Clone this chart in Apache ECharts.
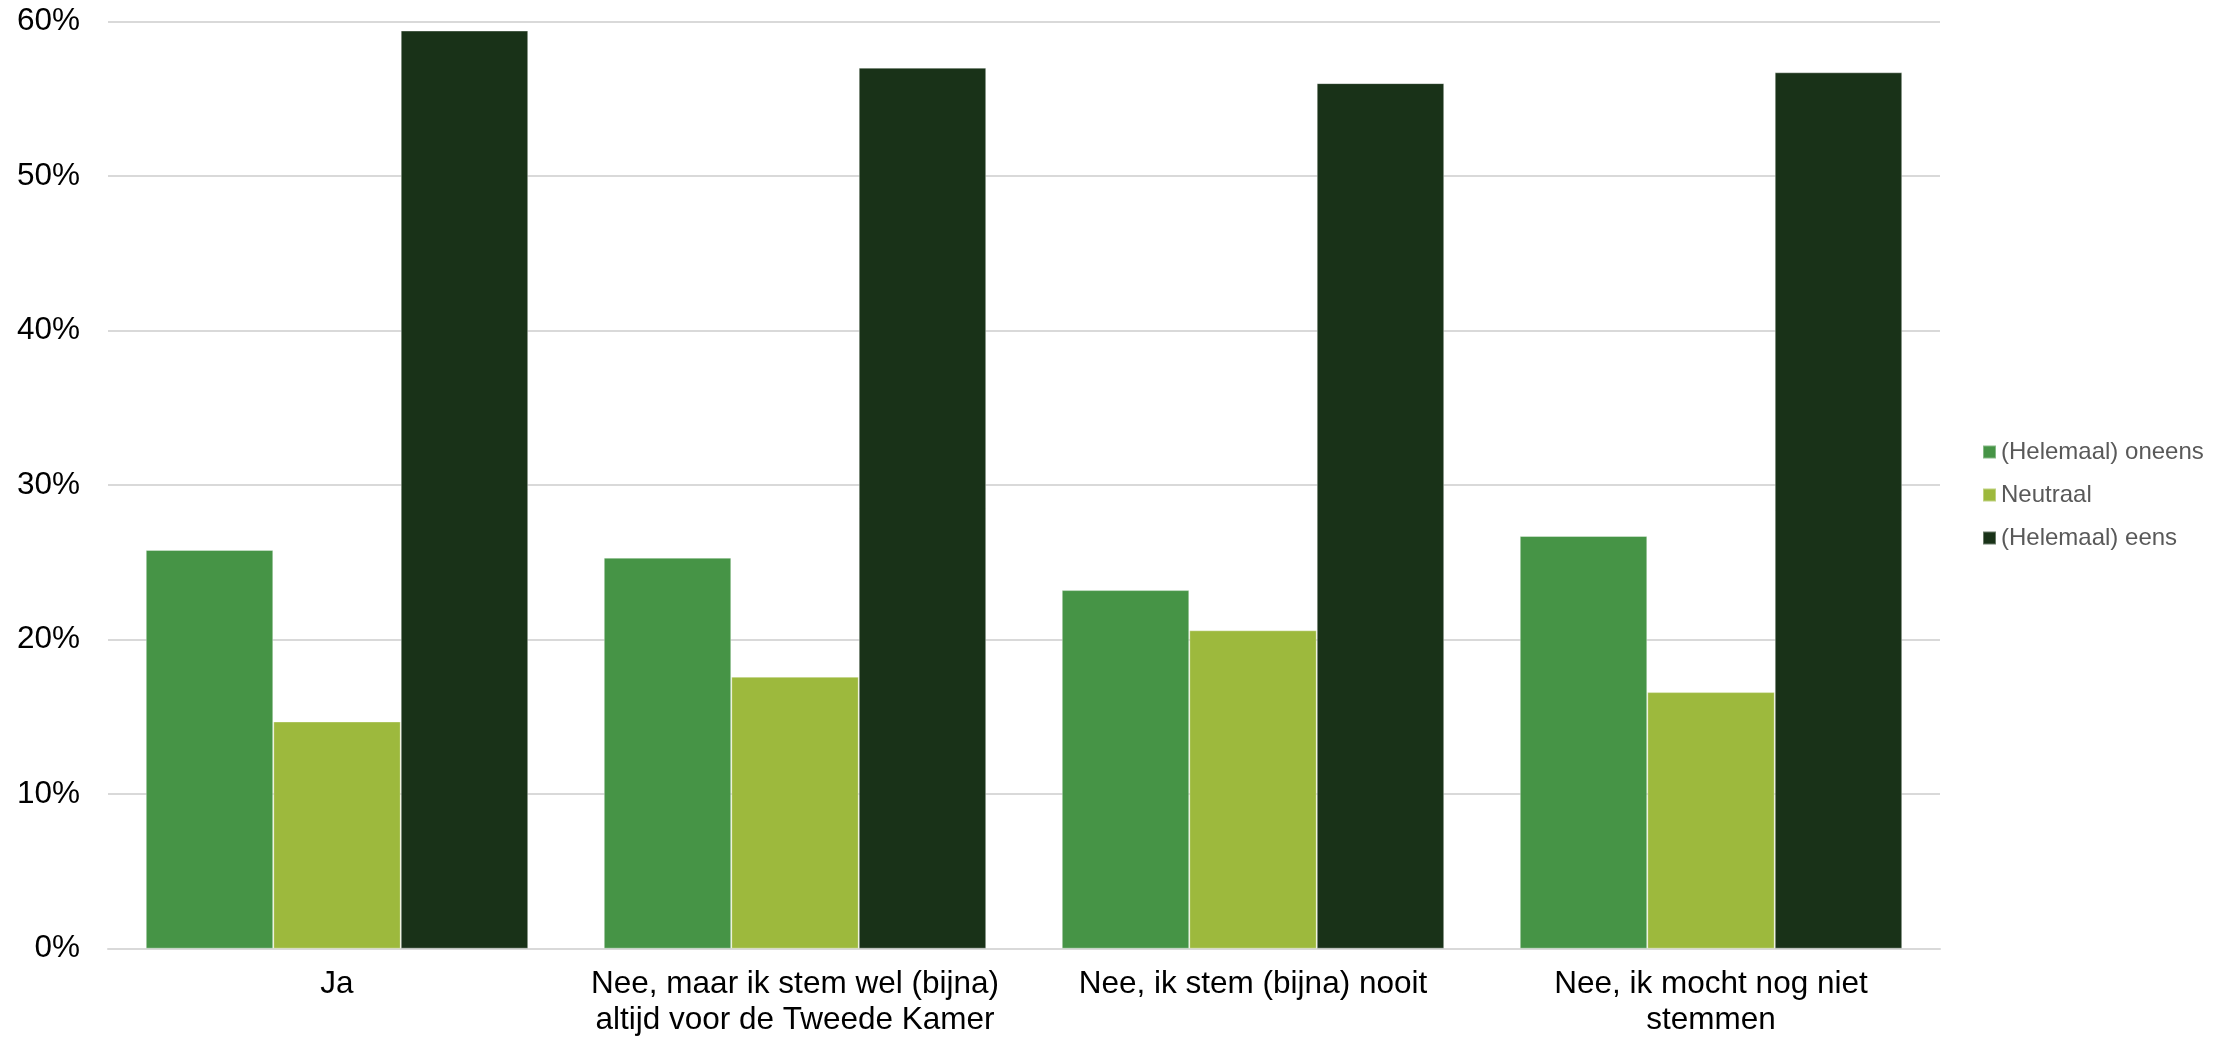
<!DOCTYPE html>
<html>
<head>
<meta charset="utf-8">
<script src="https://cdn.jsdelivr.net/npm/echarts@6/dist/echarts.min.js"></script>
<style>
html,body{margin:0;padding:0;background:#fff;}
#c{width:2231px;height:1039px;}
</style>
</head>
<body>
<div id="c"></div>
<script>
var categories = ['Ja', 'Nee, maar ik stem wel (bijna)\naltijd voor de Tweede Kamer', 'Nee, ik stem (bijna) nooit', 'Nee, ik mocht nog niet\nstemmen'];
var seriesNames = ['(Helemaal) oneens', 'Neutraal', '(Helemaal) eens'];
var oneens = [25.8, 25.3, 23.2, 26.7];
var neutraal = [14.7, 17.6, 20.6, 16.6];
var eens = [59.4, 57.0, 56.0, 56.7];
var yTicks = [0, 10, 20, 30, 40, 50, 60];
var colors = ['#469446', '#9DB93D', '#193218'];

var chart = echarts.init(document.getElementById('c'), null, {renderer: 'canvas'});
var font = '"Liberation Sans", Arial, sans-serif';
function bar(name, data, color) {
  return {
    name: name, type: 'bar', data: data,
    barGap: '0%', barCategoryGap: '16.5%',
    itemStyle: {color: color, borderColor: 'rgba(255,255,255,0.35)', borderWidth: 1},
    emphasis: {disabled: true}
  };
}
chart.setOption({
  animation: false,
  backgroundColor: '#ffffff',
  textStyle: {fontFamily: font},
  grid: {left: 108, right: 291, top: 21.3, bottom: 90.3, containLabel: false},
  legend: {
    orient: 'vertical', left: 1977, top: 435, padding: 5,
    itemWidth: 13, itemHeight: 13, itemGap: 19,
    icon: 'rect',
    data: seriesNames,
    textStyle: {fontFamily: font, fontSize: 24, color: '#595959', lineHeight: 24}
  },
  xAxis: {
    type: 'category', data: categories,
    axisLine: {show: true, lineStyle: {color: '#d9d9d9', width: 2}},
    axisTick: {show: false},
    axisLabel: {fontFamily: font, fontSize: 31.5, color: '#000000', lineHeight: 36, margin: 18, interval: 0}
  },
  yAxis: {
    type: 'value', min: yTicks[0], max: yTicks[yTicks.length - 1], interval: 10,
    axisLine: {show: false}, axisTick: {show: false},
    splitLine: {lineStyle: {color: '#d9d9d9', width: 2}},
    axisLabel: {fontFamily: font, fontSize: 31.5, color: '#000000', margin: 28, formatter: '{value}%'}
  },
  series: [
    bar(seriesNames[0], oneens, colors[0]),
    bar(seriesNames[1], neutraal, colors[1]),
    bar(seriesNames[2], eens, colors[2])
  ]
});
</script>
</body>
</html>
